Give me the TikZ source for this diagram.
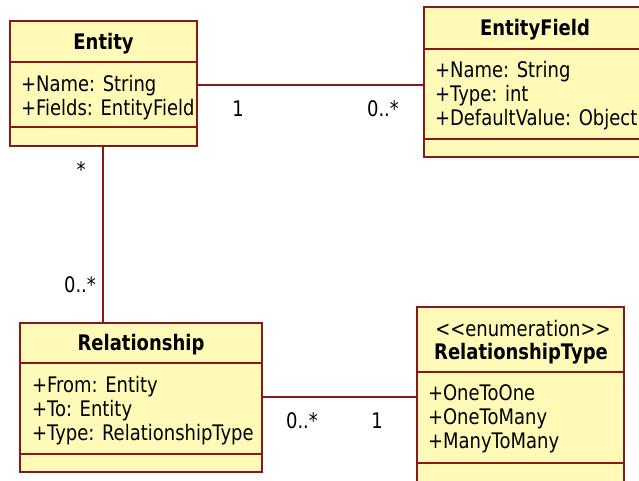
\documentclass[tikz,border=0pt]{standalone}
\usepackage{fontspec}
\newfontfamily\uml{DejaVu Sans}[FakeStretch=0.84]
\definecolor{classfill}{RGB}{255,250,184}
\definecolor{classline}{RGB}{138,24,24}
\begin{document}
\begin{tikzpicture}[x=1pt,y=-1pt,
  every node/.style={font=\uml\fontsize{21.4}{24}\selectfont, inner sep=0pt, outer sep=0pt},
  classbox/.style={draw=classline, fill=classfill, line width=2pt, anchor=north west},
  divider/.style={draw=classline, line width=2pt},
  assoc/.style={draw=classline, line width=2pt},
  member/.style={anchor=base west},
  title/.style={anchor=base, font=\uml\bfseries\fontsize{21.4}{24}\selectfont},
  stereo/.style={anchor=base},
  mult/.style={anchor=base}]
\useasboundingbox (0,0) rectangle (639,480);
\clip (0,0) rectangle (639,480);

% class boxes
\node[classbox, minimum width=187pt, minimum height=125pt] (entity) at (9.5,21) {};
\node[classbox, minimum width=222pt, minimum height=150pt] (efield) at (424,7) {};
\node[classbox, minimum width=242pt, minimum height=149pt] (rel) at (20,323) {};
\node[classbox, minimum width=207pt, minimum height=185pt] (rtype) at (417,307) {};

% compartment dividers
\draw[divider] (entity.west |- 0,62) -- (entity.east |- 0,62);
\draw[divider] (entity.west |- 0,127) -- (entity.east |- 0,127);
\draw[divider] (efield.west |- 0,49) -- (efield.east |- 0,49);
\draw[divider] (efield.west |- 0,139) -- (efield.east |- 0,139);
\draw[divider] (rel.west |- 0,363) -- (rel.east |- 0,363);
\draw[divider] (rel.west |- 0,454) -- (rel.east |- 0,454);
\draw[divider] (rtype.west |- 0,372) -- (rtype.east |- 0,372);
\draw[divider] (rtype.west |- 0,463) -- (rtype.east |- 0,463);

% Entity
\node[title] (entityT) at (103.5,49) {Entity};
\node[member] (entityA1) at (21,91) {+Name: String};
\node[member] (entityA2) at (21,115) {+Fields: EntityField};

% EntityField
\node[title] (efieldT) at (535,35) {EntityField};
\node[member] (efieldA1) at (435,77) {+Name: String};
\node[member] (efieldA2) at (435,101) {+Type: int};
\node[member] (efieldA3) at (435,125) {+DefaultValue: Object};

% Relationship
\node[title] (relT) at (141,350) {Relationship};
\node[member] (relA1) at (32,392) {+From: Entity};
\node[member] (relA2) at (32,416) {+To: Entity};
\node[member] (relA3) at (32,440) {+Type: RelationshipType};

% RelationshipType
\node[stereo] (rtypeS) at (523,336) {<<enumeration>>};
\node[title] (rtypeT) at (521,359) {RelationshipType};
\node[member] (rtypeA1) at (428,400) {+OneToOne};
\node[member] (rtypeA2) at (428,424) {+OneToMany};
\node[member] (rtypeA3) at (428,448) {+ManyToMany};

% associations
\draw[assoc] (entity.east |- 0,85) -- (efield.west |- 0,85);
\draw[assoc] (entity.south -| 103,0) -- (rel.north -| 103,0);
\draw[assoc] (rel.east |- 0,397) -- (rtype.west |- 0,397);

% multiplicities
\node[mult] (m1) at (238,116) {1};
\node[mult] (m2) at (383,116) {0..*};
\node[mult] (m3) at (81,177) {*};
\node[mult] (m4) at (80,292) {0..*};
\node[mult] (m5) at (302,428) {0..*};
\node[mult] (m6) at (377,428) {1};
\end{tikzpicture}
\end{document}
